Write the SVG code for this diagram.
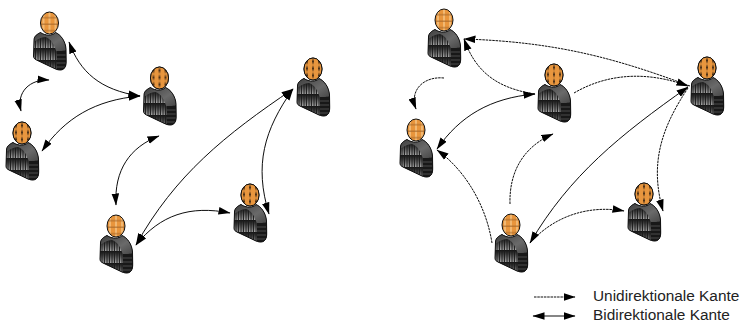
<svg xmlns="http://www.w3.org/2000/svg" width="742" height="322" viewBox="0 0 742 322">
<style>
.e{fill:none;stroke:#000;stroke-width:.95}
.d{stroke-dasharray:2.5 .8}
.b{marker-start:url(#a);marker-end:url(#a)}
.u{marker-end:url(#a)}
text{font-family:"Liberation Sans",Arial,sans-serif;font-size:15.4px;fill:#222}
</style>
<defs>
<marker id="a" markerUnits="userSpaceOnUse" markerWidth="13" markerHeight="9" refX="11.5" refY="4" orient="auto-start-reverse"><path d="M0 .2L12 4L0 7.800Z" fill="#000"/></marker>
<linearGradient id="rw" x1="0" x2="0" y1="0" y2="1"><stop offset="0" stop-color="#111"/><stop offset=".3" stop-color="#3a3a3a"/><stop offset="1" stop-color="#a8a8a8"/></linearGradient>
<linearGradient id="sh" x1="0" x2="1" y1="0" y2="1"><stop offset="0" stop-color="#3c3c3c"/><stop offset=".6" stop-color="#6a6a6a"/><stop offset="1" stop-color="#444"/></linearGradient>
<pattern id="hp" patternUnits="userSpaceOnUse" width="6" height="6.500" x="-9" y="-11"><rect width="6" height="6.500" fill="#e8953c"/><rect x="2.400" width="1.200" height="6.500" fill="#f8cf96"/><rect y="5.200" width="6" height="1" fill="#a8692a"/></pattern>
<pattern id="hq" patternUnits="userSpaceOnUse" width="6" height="7" x="-9" y="-11"><rect width="6" height="7" fill="#e8963e"/><path d="M3 0L3.900 3.500L3 7L2.100 3.500Z" fill="#3a2410"/></pattern>
<pattern id="bp" patternUnits="userSpaceOnUse" width="2.500" height="12" x="-16" y="13"><rect width="2.500" height="12" fill="url(#rw)"/><rect x="1.500" width="1" height="12" fill="#1a1a1a"/></pattern>
<clipPath id="bc"><path d="M-9 9.500C-12 11-15.500 13-15.500 17L-16 33C-16 35-15 36-13 37L6 46C10 47.500 13 47.500 15 45C16.500 43 16.700 41 16.700 38L16.500 26C16 18 11 11.500 6 9.500C3 13-4 13-9 9.500Z"/></clipPath>
<g id="pa">
<g clip-path="url(#bc)"><rect x="-17" y="8" width="35" height="41" fill="#222"/><rect x="-16" y="8" width="33" height="40" fill="url(#bp)"/><path d="M-10 8L8 8C14 12 17 20 17 27L7 29C5 22 2 16-4 14C-8 14-13 17-16 19L-16 14Z" fill="url(#sh)"/><rect x="7" y="28" width="10" height="20" fill="#181818"/><path d="M7 32H17M7 36H17M7 40H17M7 44H17" stroke="#4a4a4a" stroke-width="1"/></g>
<path d="M-9 9.500C-12 11-15.500 13-15.500 17L-16 33C-16 35-15 36-13 37L6 46C10 47.500 13 47.500 15 45C16.500 43 16.700 41 16.700 38L16.500 26C16 18 11 11.500 6 9.500C3 13-4 13-9 9.500Z" fill="none" stroke="#111" stroke-width="1"/>
<ellipse rx="9" ry="11" fill="url(#hp)" stroke="#111" stroke-width="1"/>
</g>
<g id="pb">
<use href="#pa"/>
<ellipse rx="9" ry="11" fill="url(#hq)" stroke="#111" stroke-width="1"/>
</g>
</defs>
<g id="connectors">
<path class="e b" d="M49 80C30 79 16 92 21 111"/>
<path class="e b" d="M69 42C80 72 100 90 140 96"/>
<path class="e b" d="M140 96C95 100 65 118 42 151"/>
<path class="e b" d="M159 136C130 147 114 170 116 205"/>
<path class="e b" d="M136 245C175 175 225 135 293 89"/>
<path class="e b" d="M293 89C264 130 254 165 269 214"/>
<path class="e b" d="M136 245C160 215 190 205 230 213"/>
<path class="e d u" d="M690 86C620 60 560 42 464 39"/>
<path class="e d u" d="M535 94C495 88 475 70 464 39"/>
<path class="e d u" d="M444 78C424 76 409 90 416 109"/>
<path class="e b" d="M535 94C490 98 460 116 437 149"/>
<path class="e d u" d="M492 243C486 205 465 170 437 150"/>
<path class="e d u" d="M510 204C509 170 525 146 553 134"/>
<path class="e d u" d="M574 93C610 72 650 72 688 86"/>
<path class="e b" d="M530 243C570 175 620 135 688 87"/>
<path class="e d u" d="M530 243C555 215 590 205 624 211"/>
<path class="e d u" d="M688 88C660 130 650 165 663 211"/>
<path class="e d u" d="M534 297H575"/>
<path class="e b" d="M533 316H575"/>
</g>
<g id="n1"><use href="#pa" x="49.500" y="23"/></g>
<g id="n2"><use href="#pb" x="159.500" y="78"/></g>
<g id="n3"><use href="#pb" x="22" y="133"/></g>
<g id="n4"><use href="#pa" x="116" y="226"/></g>
<g id="n5"><use href="#pb" x="250" y="195"/></g>
<g id="n6"><use href="#pb" x="313" y="69"/></g>
<g id="n7"><use href="#pa" x="444" y="20"/></g>
<g id="n8"><use href="#pb" x="554" y="75"/></g>
<g id="n9"><use href="#pa" x="416" y="130"/></g>
<g id="n10"><use href="#pa" x="511" y="225"/></g>
<g id="n11"><use href="#pb" x="644" y="194"/></g>
<g id="n12"><use href="#pb" x="707" y="68"/></g>
<g id="legend"><text x="593" y="301">Unidirektionale Kante</text><text x="593" y="319.500">Bidirektionale Kante</text></g>
</svg>
